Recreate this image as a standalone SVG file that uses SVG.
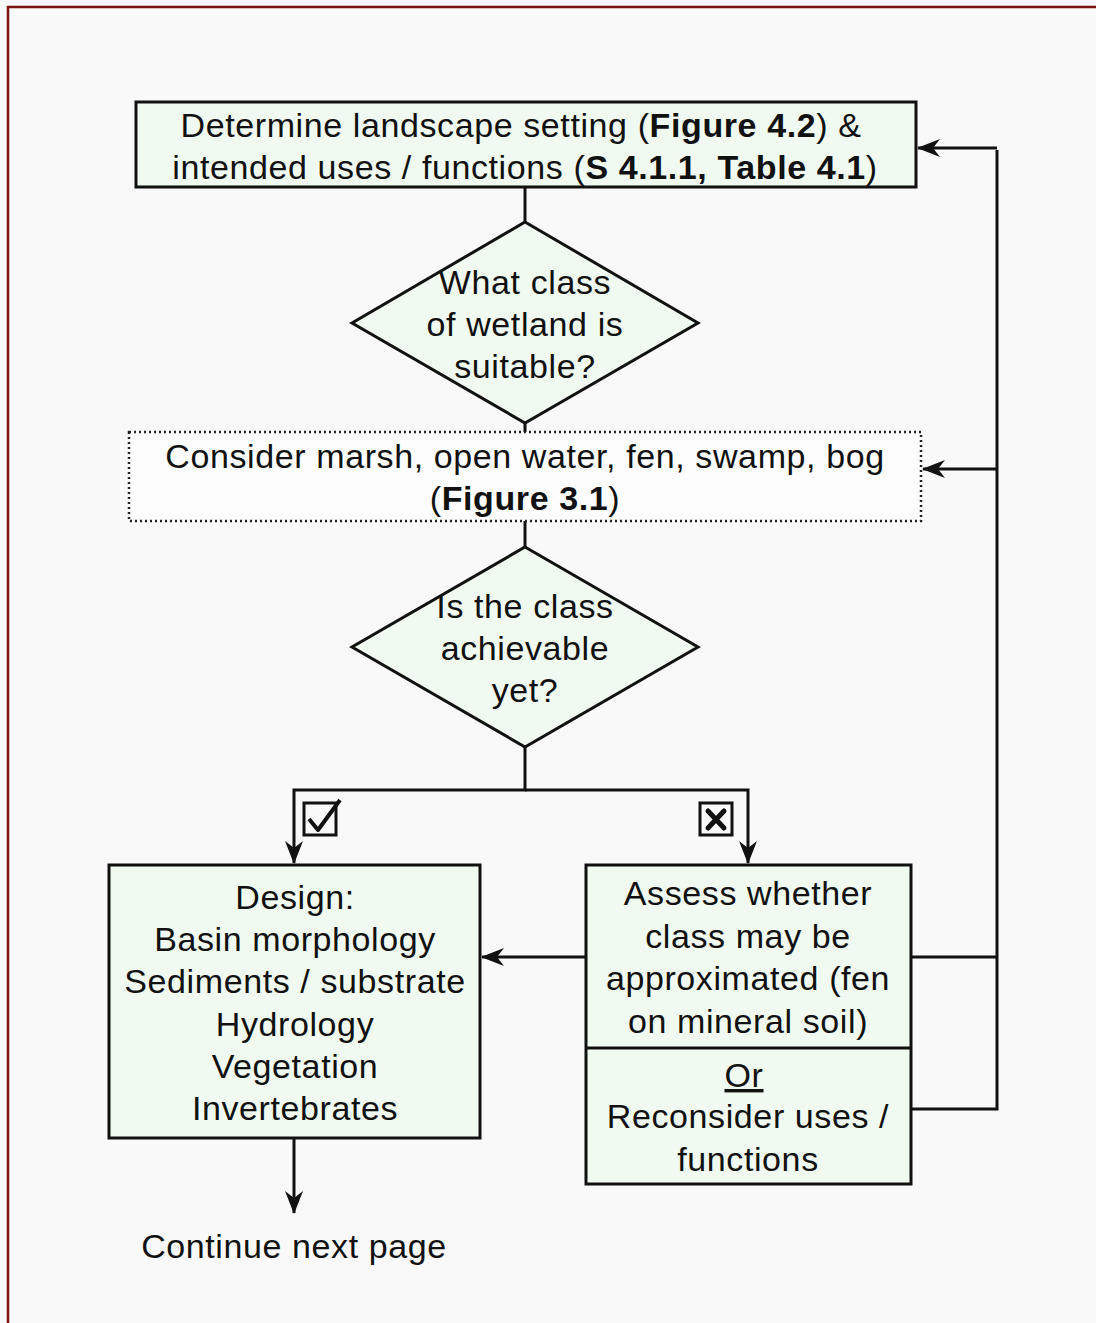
<svg xmlns="http://www.w3.org/2000/svg" width="1096" height="1323" viewBox="0 0 1096 1323">
<style>
  text { font-family: "Liberation Sans", Arial, sans-serif; font-size: 34px; letter-spacing: 0.6px; fill: #111; text-anchor: middle; }
  .b { font-weight: bold; }
  .box { fill: #f0faf0; stroke: #111; stroke-width: 3; }
  .dot { fill: #fdfdfd; stroke: #222; stroke-width: 2.5; stroke-dasharray: 2 3; }
  .ln { fill: none; stroke: #111; stroke-width: 3; }
</style>
<defs>
  <marker id="ah" markerUnits="userSpaceOnUse" markerWidth="24" markerHeight="20" viewBox="0 0 24 20" refX="22" refY="10" orient="auto">
    <path d="M0,1 L23,10 L0,19 L7,10 z" fill="#111"/>
  </marker>
</defs>
<rect x="0" y="0" width="1096" height="1323" fill="#f9f9f9"/>
<path d="M8,1323 V7 H1096" fill="none" stroke="#7a1410" stroke-width="2.5"/>

<g id="connectors">
  <path class="ln" d="M525,187 V222"/>
  <path class="ln" d="M525,423 V432"/>
  <path class="ln" d="M525,521 V547"/>
  <path class="ln" d="M525,747 V790 H294 V863" marker-end="url(#ah)"/>
  <path class="ln" d="M525,790 H748 V863" marker-end="url(#ah)"/>
  <path class="ln" d="M586,957 H482" marker-end="url(#ah)"/>
  <path class="ln" d="M294,1138 V1213" marker-end="url(#ah)"/>
  <path class="ln" d="M911,957 H997"/>
  <path class="ln" d="M911,1109 H997 V150"/>
  <path class="ln" d="M997,148 H918" marker-end="url(#ah)"/>
  <path class="ln" d="M997,469 H923" marker-end="url(#ah)"/>
</g>

<g id="n_landscape">
  <rect class="box" x="136" y="102" width="780" height="85"/>
  <text x="521" y="137">Determine landscape setting (<tspan class="b">Figure 4.2</tspan>) &amp;</text>
  <text x="525" y="179">intended uses / functions (<tspan class="b">S 4.1.1, Table 4.1</tspan>)</text>
</g>

<g id="n_whatclass">
  <polygon class="box" points="525,222 698,323 525,423 352,323"/>
  <text x="525" y="294">What class</text>
  <text x="525" y="336">of wetland is</text>
  <text x="525" y="378">suitable?</text>
</g>

<g id="n_consider">
  <rect class="dot" x="129" y="432" width="792" height="89"/>
  <text x="525" y="468">Consider marsh, open water, fen, swamp, bog</text>
  <text x="525" y="510">(<tspan class="b">Figure 3.1</tspan>)</text>
</g>

<g id="n_achievable">
  <polygon class="box" points="525,547 698,647 525,747 352,647"/>
  <text x="525" y="618">Is the class</text>
  <text x="525" y="660">achievable</text>
  <text x="525" y="702">yet?</text>
</g>

<g id="n_yes">
  <rect x="304" y="803" width="32" height="32" fill="none" stroke="#111" stroke-width="3"/>
  <path d="M309,819 L318,830 L340,800" fill="none" stroke="#111" stroke-width="4" stroke-linejoin="round"/>
</g>

<g id="n_no">
  <rect x="700" y="803" width="32" height="32" fill="none" stroke="#111" stroke-width="3"/>
  <path d="M708,811 L724,828 M724,811 L708,828" fill="none" stroke="#111" stroke-width="5" stroke-linecap="round"/>
</g>

<g id="n_design">
  <rect class="box" x="109" y="865" width="371" height="273"/>
  <text x="295" y="909">Design:</text>
  <text x="295" y="951">Basin morphology</text>
  <text x="295" y="993">Sediments / substrate</text>
  <text x="295" y="1036">Hydrology</text>
  <text x="295" y="1078">Vegetation</text>
  <text x="295" y="1120">Invertebrates</text>
</g>

<g id="n_assess">
  <rect class="box" x="586" y="865" width="325" height="319"/>
  <line x1="586" y1="1048" x2="911" y2="1048" stroke="#111" stroke-width="3"/>
  <text x="748" y="905">Assess whether</text>
  <text x="748" y="948">class may be</text>
  <text x="748" y="990">approximated (fen</text>
  <text x="748" y="1033">on mineral soil)</text>
  <text x="744" y="1087" text-decoration="underline">Or</text>
  <text x="748" y="1128">Reconsider uses /</text>
  <text x="748" y="1171">functions</text>
</g>

<g id="n_continue">
  <text x="294" y="1258">Continue next page</text>
</g>
</svg>
